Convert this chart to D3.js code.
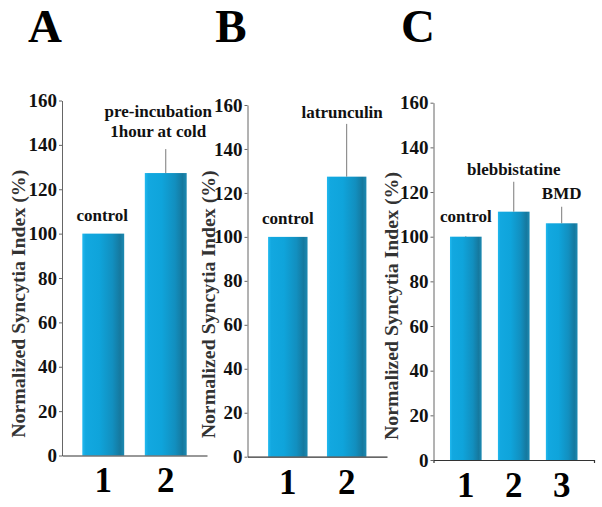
<!DOCTYPE html>
<html><head><meta charset="utf-8">
<script src="https://cdn.jsdelivr.net/npm/d3@7"></script>
<style>
html,body{margin:0;padding:0;background:#fff;}
svg{display:block;}
</style></head>
<body>
<svg id="chart" width="602" height="507"></svg>
<script>
// ---- data ----
const panelLetters = ["A", "B", "C"];
const yTicks = [0, 20, 40, 60, 80, 100, 120, 140, 160];
const yTitle = "Normalized Syncytia Index (%)";

const categoriesA = ["1", "2"];
const valuesA = [100, 127.3];
const errorsA = [0, 10.8];
const barLabelsA = [["control"], ["pre-incubation", "1hour at cold"]];

const categoriesB = ["1", "2"];
const valuesB = [100, 127.4];
const errorsB = [0, 24];
const barLabelsB = [["control"], ["latrunculin"]];

const categoriesC = ["1", "2", "3"];
const valuesC = [100, 111.2, 106];
const errorsC = [0.3, 13.4, 7.4];
const barLabelsC = [["control"], ["blebbistatine"], ["BMD"]];

// ---- layout (positions/styles, not data) ----
const FONT = "'Liberation Serif', 'Times New Roman', Times, serif";
const layouts = [
  {letterX: 45, xLeft: 62, xRight: 207, yBottom: 455.5, yTop: 100.5, pIn: 0.33, pOut: 0.325, titleX: 25,
   labelGap: [13, 36], labelDx: [-1, -7.5], endTick: 0},
  {letterX: 231, xLeft: 247.5, xRight: 387, yBottom: 456.7, yTop: 105, pIn: 0.33, pOut: 0.35, titleX: 215,
   labelGap: [13, 59], labelDx: [0, -4.5], endTick: 0},
  {letterX: 418, xLeft: 433.5, xRight: 594, yBottom: 460, yTop: 102.7, pIn: 0.34, pOut: 0.344, titleX: 398,
   labelGap: [15, 37, 24], labelDx: [0, 0, 0], endTick: 3}
];
const panels = [
  {cats: categoriesA, vals: valuesA, errs: errorsA, labels: barLabelsA},
  {cats: categoriesB, vals: valuesB, errs: errorsB, labels: barLabelsB},
  {cats: categoriesC, vals: valuesC, errs: errorsC, labels: barLabelsC}
];

const svg = d3.select("#chart");
const defs = svg.append("defs");
const grad = defs.append("linearGradient").attr("id", "barGrad")
  .attr("x1", "0%").attr("x2", "100%").attr("y1", "0%").attr("y2", "0%");
[[0, "#22b9ef"], [0.08, "#12a8e0"], [0.4, "#0fa4db"], [0.72, "#128fbf"], [0.9, "#15799f"], [1, "#1d8ab2"]]
  .forEach(([o, c]) => grad.append("stop").attr("offset", o).attr("stop-color", c));

function serif(sel, size) {
  return sel.style("font-family", FONT).style("font-weight", "bold").style("font-size", size + "px");
}

panels.forEach((p, i) => {
  const L = layouts[i];
  const g = svg.append("g");
  const y = d3.scaleLinear().domain([0, 160]).range([L.yBottom, L.yTop]);
  const x = d3.scaleBand().domain(p.cats).range([L.xLeft, L.xRight])
    .paddingInner(L.pIn).paddingOuter(L.pOut);

  // panel letter
  serif(svg.append("text").attr("x", L.letterX).attr("y", 42).attr("text-anchor", "middle")
    .attr("fill", "#000").text(panelLetters[i]), 47);

  // bars
  g.selectAll("rect.bar").data(p.cats).enter().append("rect")
    .attr("x", d => x(d)).attr("width", x.bandwidth())
    .attr("y", (d, j) => y(p.vals[j]))
    .attr("height", (d, j) => y(0) - y(p.vals[j]))
    .attr("fill", "url(#barGrad)");

  // error bars (upper only)
  g.selectAll("line.err").data(p.cats).enter().append("line")
    .attr("x1", d => x(d) + x.bandwidth() / 2).attr("x2", d => x(d) + x.bandwidth() / 2)
    .attr("y1", (d, j) => y(p.vals[j])).attr("y2", (d, j) => y(p.vals[j] + p.errs[j]))
    .attr("stroke", "#7a7a7a").attr("stroke-width", 1);

  // bar labels
  p.cats.forEach((c, j) => {
    const lines = p.labels[j];
    const top = y(p.vals[j]) - L.labelGap[j];
    lines.forEach((t, k) => {
      serif(g.append("text").attr("x", x(c) + x.bandwidth() / 2 + L.labelDx[j])
        .attr("y", top - (lines.length - 1 - k) * 20)
        .attr("text-anchor", "middle").attr("fill", "#111").text(t), 17);
    });
  });

  // y axis
  const ya = g.append("g").attr("transform", `translate(${L.xLeft},0)`)
    .call(d3.axisLeft(y).tickValues(yTicks).tickSize(3).tickSizeOuter(0).tickPadding(2));
  ya.select(".domain").attr("stroke", "#666");
  ya.selectAll(".tick line").attr("stroke", "#666");
  serif(ya.selectAll(".tick text").attr("fill", "#111"), 19);

  // x axis
  const xa = g.append("g").attr("transform", `translate(0,${L.yBottom})`)
    .call(d3.axisBottom(x).tickSize(0).tickSizeOuter(L.endTick).tickPadding(12));
  xa.select(".domain").attr("stroke", "#333").attr("stroke-width", 1.2);
  serif(xa.selectAll(".tick text").attr("fill", "#000").attr("dy", "0.71em"), 35);

  // y title
  const cy = (L.yBottom + 158) / 2 - 3;
  serif(svg.append("text").attr("transform", `translate(${L.titleX},${cy}) rotate(-90)`)
    .attr("text-anchor", "middle").attr("fill", "#333")
    .attr("textLength", 268).attr("lengthAdjust", "spacingAndGlyphs").text(yTitle), 18);
});
</script>
</body></html>
